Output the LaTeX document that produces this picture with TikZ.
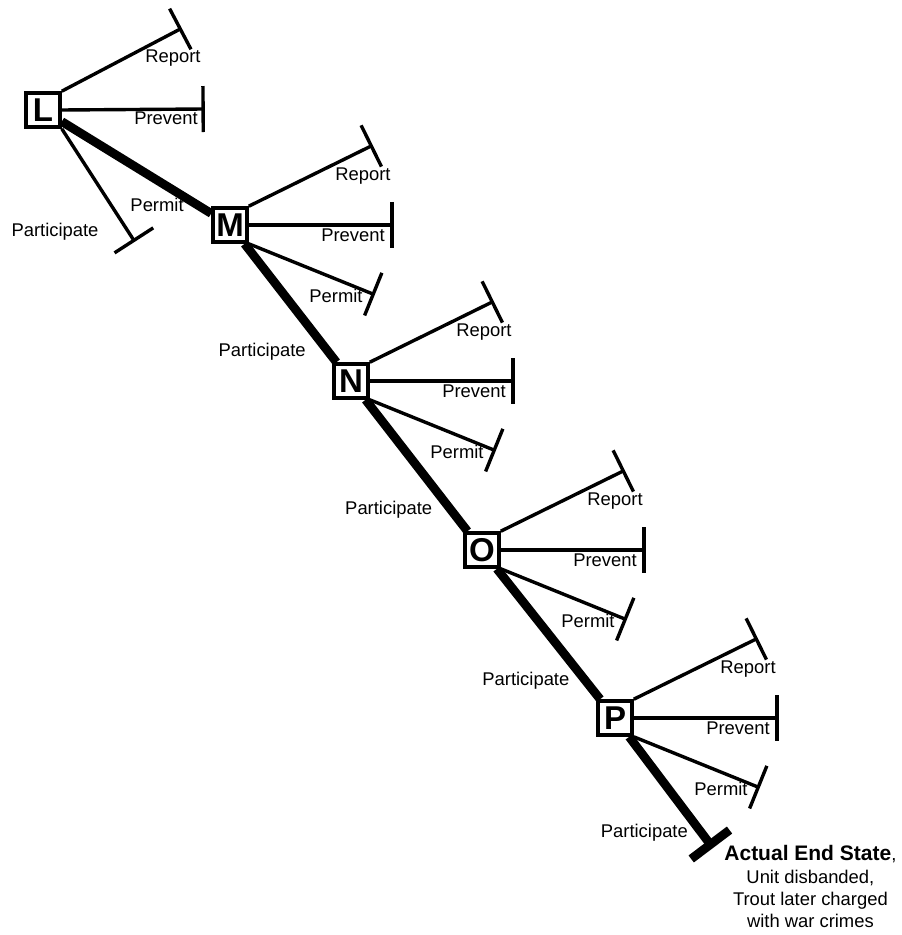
\documentclass[tikz,border=0pt]{standalone}
\usepackage{fontspec}
\setmainfont{Liberation Sans}
\usetikzlibrary{arrows.meta,calc,positioning}

\tikzset{
  state/.style={draw,line width=1.8pt,fill=white,minimum size=17pt,inner sep=0pt,
    font=\bfseries\fontsize{16.5}{16.5}\selectfont},
  choice/.style={line width=1.7pt,-{Bar[width=23pt]}},
  taken/.style={line width=4.4pt},
  lbl/.style={inner sep=1pt,font=\fontsize{9.2}{11}\selectfont}
}

\begin{document}
\begin{tikzpicture}[x=0.5pt,y=-0.5pt]
  \useasboundingbox (0,0) rectangle (901,935);

  % decision points
  \node[state] (L) at (43,110) {L};
  \node[state] (M) at (230,225) {M};
  \node[state] (N) at (351,381) {N};
  \node[state] (O) at (482,550) {O};
  \node[state] (P) at (615,718) {P};
  \coordinate (fin) at (713,848);

  % the path actually taken
  \draw[taken] (L) -- (M) -- (N) -- (O) -- (P);
  \draw[taken,-{Bar[width=24pt]}] (P) -- (fin);
  \node[lbl,below=8pt] at ($(L)!0.61!(M)$) {Permit};
  \node[lbl,left=10pt] at ($(M)!0.81!(N)$) {Participate};
  \node[lbl,left=8pt] at ($(N)!0.76!(O)$) {Participate};
  \node[lbl,left=7pt] at ($(O)!0.78!(P)$) {Participate};
  \node[lbl,left=5.5pt] at ($(P)!0.88!(fin)$) {Participate};

  % options not taken at L
  \draw[choice] (L.north east) -- ++(120,-63);
  \draw[choice] (L.east) -- ++(143,-1);
  \draw[choice] (L.south east) -- ++(73,113);
  \node[lbl] at ($(L)+(130,-52)$) {Report};
  \node[lbl] at ($(L)+(123,8)$) {Prevent};
  \node[lbl] at ($(L)+(12,122)$) {Participate};

  % options not taken at M..P
  \foreach \s in {M,N,O,P}{
    \draw[choice] (\s.north east) -- ++(124,-61);
    \draw[choice] (\s.east) -- ++(145,0);
    \draw[choice] (\s.south east) -- ++(126,51);
    \node[lbl] at ($(\s)+(133,-49)$) {Report};
    \node[lbl] at ($(\s)+(123,10)$) {Prevent};
    \node[lbl] at ($(\s)+(106,71)$) {Permit};
  }

  \node[lbl,anchor=north west,align=center,inner sep=0pt] (outcome) at ($(fin)+(11,-3)$)
    {{\fontsize{10.5}{11}\selectfont\bfseries Actual End State},\\[0.6pt]
     Unit disbanded,\\Trout later charged\\with war crimes};
\end{tikzpicture}
\end{document}
